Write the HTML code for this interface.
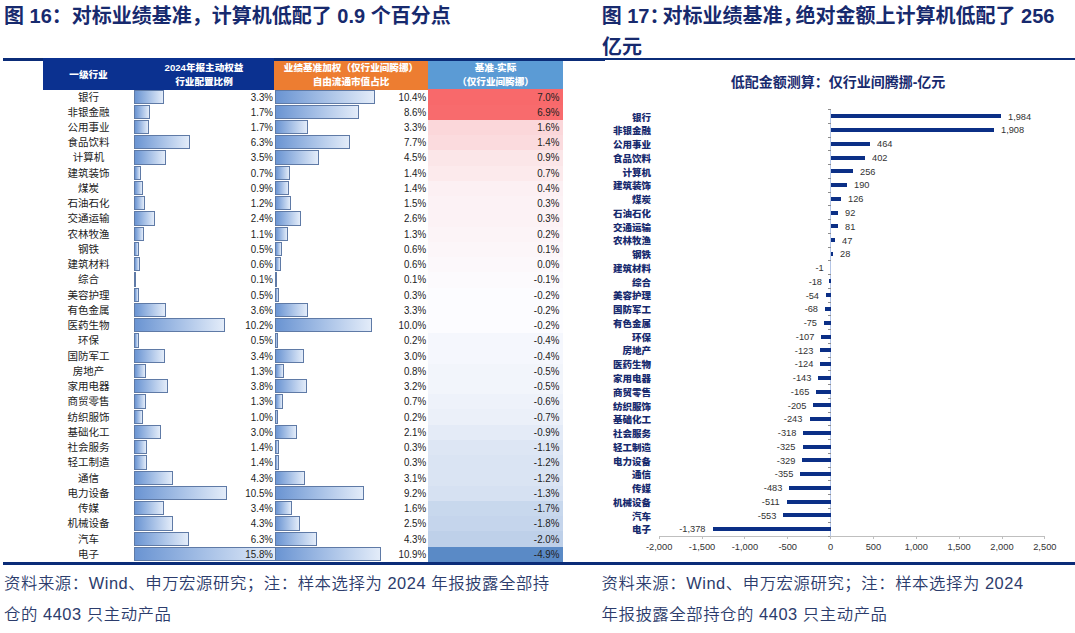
<!DOCTYPE html>
<html lang="zh-CN">
<head>
<meta charset="utf-8">
<title>图16 图17</title>
<style>
html,body{margin:0;padding:0;background:#fff;}
body{width:1075px;height:633px;position:relative;overflow:hidden;font-family:"Liberation Sans","Noto Sans CJK SC",sans-serif;}
.abs{position:absolute;}
.ttl{position:absolute;font-weight:700;font-size:20px;line-height:26px;color:#172a6e;white-space:nowrap;}
.src{position:absolute;font-size:16.4px;letter-spacing:0.55px;line-height:31px;color:#2c3c6c;white-space:nowrap;font-weight:350;}
.hline{position:absolute;background:#0b2c78;}
.hd{position:absolute;color:#fff;font-weight:900;font-size:9.6px;line-height:14.2px;text-align:center;white-space:nowrap;}
.rl{position:absolute;font-size:10.5px;line-height:15px;height:15px;color:#222;text-align:center;white-space:nowrap;}
.rv{position:absolute;font-size:10.5px;line-height:15px;height:15px;color:#222;text-align:right;white-space:nowrap;transform:scaleX(0.93);transform-origin:100% 50%;}
.db{position:absolute;box-sizing:border-box;border:1px solid #5f7aa6;background:linear-gradient(to right,#6a94d2 0%,#a6c0e6 50%,#e3ecf9 100%);}
.cc{position:absolute;}
.cl{position:absolute;font-weight:900;font-size:9.5px;line-height:13px;height:13px;color:#172a6e;text-align:right;white-space:nowrap;}
.cv{position:absolute;font-size:9.7px;line-height:13px;height:13px;color:#333;white-space:nowrap;transform:scaleX(0.955);transform-origin:0 50%;}
.cvn{transform-origin:100% 50%;text-align:right;}
.cb{position:absolute;background:#0b2f86;height:4px;}
.tk{position:absolute;font-size:9.3px;line-height:12px;color:#333;text-align:center;width:50px;white-space:nowrap;}
.pc{display:inline-block;width:13px;overflow:visible;}
</style>
</head>
<body>
<div class="ttl" style="left:4px;top:2.7px;">图 16：对标业绩基准，计算机低配了 0.9 个百分点</div>
<div class="hline" style="left:3px;top:58px;width:602px;height:3px;"></div>
<div class="abs" style="left:43px;top:58px;width:231px;height:32px;background:#0b3190;"></div>
<div class="abs" style="left:274px;top:61px;width:154px;height:29px;background:#ed7d31;"></div>
<div class="abs" style="left:428px;top:61px;width:135px;height:29px;background:#5b9bd5;"></div>
<div class="hd" style="left:43px;top:68px;width:91px;">一级行业</div>
<div class="hd" style="left:134px;top:60.5px;width:140px;">2024年报主动权益<br>行业配置比例</div>
<div class="hd" style="left:274px;top:60.5px;width:154px;">业绩基准加权（仅行业间腾挪）<br>自由流通市值占比</div>
<div class="hd" style="left:428px;top:60.5px;width:135px;">基准-实际<br>（仅行业间腾挪）</div>
<div class="cc" style="left:428px;top:89.4px;width:135px;height:15.54px;background:rgb(248,105,107);"></div>
<div class="db" style="left:134.2px;top:89.5px;width:29.5px;height:14.24px;"></div><div class="db" style="left:275.3px;top:89.5px;width:99.7px;height:14.24px;"></div>
<div class="rl" style="left:43px;top:89.52px;width:91px;">银行</div><div class="rv" style="left:134px;top:89.52px;width:139px;">3.3%</div><div class="rv" style="left:274px;top:89.52px;width:152.2px;">10.4%</div><div class="rv" style="left:428px;top:89.52px;width:131.4px;">7.0%</div>
<div class="cc" style="left:428px;top:104.64px;width:135px;height:15.54px;background:rgb(248,107,109);"></div>
<div class="db" style="left:134.2px;top:104.74px;width:15.5px;height:14.24px;"></div><div class="db" style="left:275.3px;top:104.74px;width:83.6px;height:14.24px;"></div>
<div class="rl" style="left:43px;top:104.76px;width:91px;">非银金融</div><div class="rv" style="left:134px;top:104.76px;width:139px;">1.7%</div><div class="rv" style="left:274px;top:104.76px;width:152.2px;">8.6%</div><div class="rv" style="left:428px;top:104.76px;width:131.4px;">6.9%</div>
<div class="cc" style="left:428px;top:119.88px;width:135px;height:15.54px;background:rgb(251,215,218);"></div>
<div class="db" style="left:134.2px;top:119.98px;width:14.7px;height:14.24px;"></div><div class="db" style="left:275.3px;top:119.98px;width:32.7px;height:14.24px;"></div>
<div class="rl" style="left:43px;top:120px;width:91px;">公用事业</div><div class="rv" style="left:134px;top:120px;width:139px;">1.7%</div><div class="rv" style="left:274px;top:120px;width:152.2px;">3.3%</div><div class="rv" style="left:428px;top:120px;width:131.4px;">1.6%</div>
<div class="cc" style="left:428px;top:135.13px;width:135px;height:15.54px;background:rgb(251,219,222);"></div>
<div class="db" style="left:134.2px;top:135.23px;width:56px;height:14.24px;"></div><div class="db" style="left:275.3px;top:135.23px;width:75px;height:14.24px;"></div>
<div class="rl" style="left:43px;top:135.25px;width:91px;">食品饮料</div><div class="rv" style="left:134px;top:135.25px;width:139px;">6.3%</div><div class="rv" style="left:274px;top:135.25px;width:152.2px;">7.7%</div><div class="rv" style="left:428px;top:135.25px;width:131.4px;">1.4%</div>
<div class="cc" style="left:428px;top:150.37px;width:135px;height:15.54px;background:rgb(251,230,232);"></div>
<div class="db" style="left:134.2px;top:150.47px;width:31.4px;height:14.24px;"></div><div class="db" style="left:275.3px;top:150.47px;width:43.7px;height:14.24px;"></div>
<div class="rl" style="left:43px;top:150.49px;width:91px;">计算机</div><div class="rv" style="left:134px;top:150.49px;width:139px;">3.5%</div><div class="rv" style="left:274px;top:150.49px;width:152.2px;">4.5%</div><div class="rv" style="left:428px;top:150.49px;width:131.4px;">0.9%</div>
<div class="cc" style="left:428px;top:165.61px;width:135px;height:15.54px;background:rgb(252,234,236);"></div>
<div class="db" style="left:134.2px;top:165.71px;width:7.1px;height:14.24px;"></div><div class="db" style="left:275.3px;top:165.71px;width:14.9px;height:14.24px;"></div>
<div class="rl" style="left:43px;top:165.73px;width:91px;">建筑装饰</div><div class="rv" style="left:134px;top:165.73px;width:139px;">0.7%</div><div class="rv" style="left:274px;top:165.73px;width:152.2px;">1.4%</div><div class="rv" style="left:428px;top:165.73px;width:131.4px;">0.7%</div>
<div class="cc" style="left:428px;top:180.85px;width:135px;height:15.54px;background:rgb(252,240,243);"></div>
<div class="db" style="left:134.2px;top:180.95px;width:9.1px;height:14.24px;"></div><div class="db" style="left:275.3px;top:180.95px;width:14px;height:14.24px;"></div>
<div class="rl" style="left:43px;top:180.97px;width:91px;">煤炭</div><div class="rv" style="left:134px;top:180.97px;width:139px;">0.9%</div><div class="rv" style="left:274px;top:180.97px;width:152.2px;">1.4%</div><div class="rv" style="left:428px;top:180.97px;width:131.4px;">0.4%</div>
<div class="cc" style="left:428px;top:196.09px;width:135px;height:15.54px;background:rgb(252,242,245);"></div>
<div class="db" style="left:134.2px;top:196.19px;width:10.8px;height:14.24px;"></div><div class="db" style="left:275.3px;top:196.19px;width:15.7px;height:14.24px;"></div>
<div class="rl" style="left:43px;top:196.21px;width:91px;">石油石化</div><div class="rv" style="left:134px;top:196.21px;width:139px;">1.2%</div><div class="rv" style="left:274px;top:196.21px;width:152.2px;">1.5%</div><div class="rv" style="left:428px;top:196.21px;width:131.4px;">0.3%</div>
<div class="cc" style="left:428px;top:211.34px;width:135px;height:15.54px;background:rgb(252,242,245);"></div>
<div class="db" style="left:134.2px;top:211.44px;width:20.9px;height:14.24px;"></div><div class="db" style="left:275.3px;top:211.44px;width:25.5px;height:14.24px;"></div>
<div class="rl" style="left:43px;top:211.46px;width:91px;">交通运输</div><div class="rv" style="left:134px;top:211.46px;width:139px;">2.4%</div><div class="rv" style="left:274px;top:211.46px;width:152.2px;">2.6%</div><div class="rv" style="left:428px;top:211.46px;width:131.4px;">0.3%</div>
<div class="cc" style="left:428px;top:226.58px;width:135px;height:15.54px;background:rgb(252,244,247);"></div>
<div class="db" style="left:134.2px;top:226.68px;width:10.2px;height:14.24px;"></div><div class="db" style="left:275.3px;top:226.68px;width:12.6px;height:14.24px;"></div>
<div class="rl" style="left:43px;top:226.7px;width:91px;">农林牧渔</div><div class="rv" style="left:134px;top:226.7px;width:139px;">1.1%</div><div class="rv" style="left:274px;top:226.7px;width:152.2px;">1.3%</div><div class="rv" style="left:428px;top:226.7px;width:131.4px;">0.2%</div>
<div class="cc" style="left:428px;top:241.82px;width:135px;height:15.54px;background:rgb(252,246,249);"></div>
<div class="db" style="left:134.2px;top:241.92px;width:4.5px;height:14.24px;"></div><div class="db" style="left:275.3px;top:241.92px;width:6.6px;height:14.24px;"></div>
<div class="rl" style="left:43px;top:241.94px;width:91px;">钢铁</div><div class="rv" style="left:134px;top:241.94px;width:139px;">0.5%</div><div class="rv" style="left:274px;top:241.94px;width:152.2px;">0.6%</div><div class="rv" style="left:428px;top:241.94px;width:131.4px;">0.1%</div>
<div class="cc" style="left:428px;top:257.06px;width:135px;height:15.54px;background:rgb(252,248,251);"></div>
<div class="db" style="left:134.2px;top:257.16px;width:5.5px;height:14.24px;"></div><div class="db" style="left:275.3px;top:257.16px;width:5.9px;height:14.24px;"></div>
<div class="rl" style="left:43px;top:257.18px;width:91px;">建筑材料</div><div class="rv" style="left:134px;top:257.18px;width:139px;">0.6%</div><div class="rv" style="left:274px;top:257.18px;width:152.2px;">0.6%</div><div class="rv" style="left:428px;top:257.18px;width:131.4px;">0.0%</div>
<div class="cc" style="left:428px;top:272.3px;width:135px;height:15.54px;background:rgb(252,250,253);"></div>
<div class="db" style="left:134.2px;top:272.4px;width:1.7px;height:14.24px;"></div><div class="db" style="left:275.3px;top:272.4px;width:1.8px;height:14.24px;"></div>
<div class="rl" style="left:43px;top:272.42px;width:91px;">综合</div><div class="rv" style="left:134px;top:272.42px;width:139px;">0.1%</div><div class="rv" style="left:274px;top:272.42px;width:152.2px;">0.1%</div><div class="rv" style="left:428px;top:272.42px;width:131.4px;">-0.1%</div>
<div class="cc" style="left:428px;top:287.55px;width:135px;height:15.54px;background:rgb(252,252,255);"></div>
<div class="db" style="left:134.2px;top:287.65px;width:4.5px;height:14.24px;"></div><div class="db" style="left:275.3px;top:287.65px;width:3.7px;height:14.24px;"></div>
<div class="rl" style="left:43px;top:287.67px;width:91px;">美容护理</div><div class="rv" style="left:134px;top:287.67px;width:139px;">0.5%</div><div class="rv" style="left:274px;top:287.67px;width:152.2px;">0.3%</div><div class="rv" style="left:428px;top:287.67px;width:131.4px;">-0.2%</div>
<div class="cc" style="left:428px;top:302.79px;width:135px;height:15.54px;background:rgb(252,252,255);"></div>
<div class="db" style="left:134.2px;top:302.89px;width:31.7px;height:14.24px;"></div><div class="db" style="left:275.3px;top:302.89px;width:32.8px;height:14.24px;"></div>
<div class="rl" style="left:43px;top:302.91px;width:91px;">有色金属</div><div class="rv" style="left:134px;top:302.91px;width:139px;">3.6%</div><div class="rv" style="left:274px;top:302.91px;width:152.2px;">3.3%</div><div class="rv" style="left:428px;top:302.91px;width:131.4px;">-0.2%</div>
<div class="cc" style="left:428px;top:318.03px;width:135px;height:15.54px;background:rgb(252,252,255);"></div>
<div class="db" style="left:134.2px;top:318.13px;width:90.7px;height:14.24px;"></div><div class="db" style="left:275.3px;top:318.13px;width:96.6px;height:14.24px;"></div>
<div class="rl" style="left:43px;top:318.15px;width:91px;">医药生物</div><div class="rv" style="left:134px;top:318.15px;width:139px;">10.2%</div><div class="rv" style="left:274px;top:318.15px;width:152.2px;">10.0%</div><div class="rv" style="left:428px;top:318.15px;width:131.4px;">-0.2%</div>
<div class="cc" style="left:428px;top:333.27px;width:135px;height:15.54px;background:rgb(245,247,253);"></div>
<div class="db" style="left:134.2px;top:333.37px;width:4.5px;height:14.24px;"></div><div class="db" style="left:275.3px;top:333.37px;width:2.8px;height:14.24px;"></div>
<div class="rl" style="left:43px;top:333.39px;width:91px;">环保</div><div class="rv" style="left:134px;top:333.39px;width:139px;">0.5%</div><div class="rv" style="left:274px;top:333.39px;width:152.2px;">0.2%</div><div class="rv" style="left:428px;top:333.39px;width:131.4px;">-0.4%</div>
<div class="cc" style="left:428px;top:348.51px;width:135px;height:15.54px;background:rgb(245,247,253);"></div>
<div class="db" style="left:134.2px;top:348.61px;width:30.4px;height:14.24px;"></div><div class="db" style="left:275.3px;top:348.61px;width:28.7px;height:14.24px;"></div>
<div class="rl" style="left:43px;top:348.63px;width:91px;">国防军工</div><div class="rv" style="left:134px;top:348.63px;width:139px;">3.4%</div><div class="rv" style="left:274px;top:348.63px;width:152.2px;">3.0%</div><div class="rv" style="left:428px;top:348.63px;width:131.4px;">-0.4%</div>
<div class="cc" style="left:428px;top:363.75px;width:135px;height:15.54px;background:rgb(242,245,251);"></div>
<div class="db" style="left:134.2px;top:363.85px;width:11.8px;height:14.24px;"></div><div class="db" style="left:275.3px;top:363.85px;width:8.5px;height:14.24px;"></div>
<div class="rl" style="left:43px;top:363.88px;width:91px;">房地产</div><div class="rv" style="left:134px;top:363.88px;width:139px;">1.3%</div><div class="rv" style="left:274px;top:363.88px;width:152.2px;">0.8%</div><div class="rv" style="left:428px;top:363.88px;width:131.4px;">-0.5%</div>
<div class="cc" style="left:428px;top:379px;width:135px;height:15.54px;background:rgb(242,245,251);"></div>
<div class="db" style="left:134.2px;top:379.1px;width:33.4px;height:14.24px;"></div><div class="db" style="left:275.3px;top:379.1px;width:31.8px;height:14.24px;"></div>
<div class="rl" style="left:43px;top:379.12px;width:91px;">家用电器</div><div class="rv" style="left:134px;top:379.12px;width:139px;">3.8%</div><div class="rv" style="left:274px;top:379.12px;width:152.2px;">3.2%</div><div class="rv" style="left:428px;top:379.12px;width:131.4px;">-0.5%</div>
<div class="cc" style="left:428px;top:394.24px;width:135px;height:15.54px;background:rgb(238,242,250);"></div>
<div class="db" style="left:134.2px;top:394.34px;width:11.6px;height:14.24px;"></div><div class="db" style="left:275.3px;top:394.34px;width:7.5px;height:14.24px;"></div>
<div class="rl" style="left:43px;top:394.36px;width:91px;">商贸零售</div><div class="rv" style="left:134px;top:394.36px;width:139px;">1.3%</div><div class="rv" style="left:274px;top:394.36px;width:152.2px;">0.7%</div><div class="rv" style="left:428px;top:394.36px;width:131.4px;">-0.6%</div>
<div class="cc" style="left:428px;top:409.48px;width:135px;height:15.54px;background:rgb(235,240,249);"></div>
<div class="db" style="left:134.2px;top:409.58px;width:8.8px;height:14.24px;"></div><div class="db" style="left:275.3px;top:409.58px;width:3.1px;height:14.24px;"></div>
<div class="rl" style="left:43px;top:409.6px;width:91px;">纺织服饰</div><div class="rv" style="left:134px;top:409.6px;width:139px;">1.0%</div><div class="rv" style="left:274px;top:409.6px;width:152.2px;">0.2%</div><div class="rv" style="left:428px;top:409.6px;width:131.4px;">-0.7%</div>
<div class="cc" style="left:428px;top:424.72px;width:135px;height:15.54px;background:rgb(228,235,247);"></div>
<div class="db" style="left:134.2px;top:424.82px;width:26.8px;height:14.24px;"></div><div class="db" style="left:275.3px;top:424.82px;width:21.5px;height:14.24px;"></div>
<div class="rl" style="left:43px;top:424.84px;width:91px;">基础化工</div><div class="rv" style="left:134px;top:424.84px;width:139px;">3.0%</div><div class="rv" style="left:274px;top:424.84px;width:152.2px;">2.1%</div><div class="rv" style="left:428px;top:424.84px;width:131.4px;">-0.9%</div>
<div class="cc" style="left:428px;top:439.96px;width:135px;height:15.54px;background:rgb(221,230,244);"></div>
<div class="db" style="left:134.2px;top:440.06px;width:12.8px;height:14.24px;"></div><div class="db" style="left:275.3px;top:440.06px;width:3.9px;height:14.24px;"></div>
<div class="rl" style="left:43px;top:440.09px;width:91px;">社会服务</div><div class="rv" style="left:134px;top:440.09px;width:139px;">1.4%</div><div class="rv" style="left:274px;top:440.09px;width:152.2px;">0.3%</div><div class="rv" style="left:428px;top:440.09px;width:131.4px;">-1.1%</div>
<div class="cc" style="left:428px;top:455.21px;width:135px;height:15.54px;background:rgb(218,228,243);"></div>
<div class="db" style="left:134.2px;top:455.31px;width:12.8px;height:14.24px;"></div><div class="db" style="left:275.3px;top:455.31px;width:3.9px;height:14.24px;"></div>
<div class="rl" style="left:43px;top:455.33px;width:91px;">轻工制造</div><div class="rv" style="left:134px;top:455.33px;width:139px;">1.4%</div><div class="rv" style="left:274px;top:455.33px;width:152.2px;">0.3%</div><div class="rv" style="left:428px;top:455.33px;width:131.4px;">-1.2%</div>
<div class="cc" style="left:428px;top:470.45px;width:135px;height:15.54px;background:rgb(218,228,243);"></div>
<div class="db" style="left:134.2px;top:470.55px;width:38.8px;height:14.24px;"></div><div class="db" style="left:275.3px;top:470.55px;width:30.2px;height:14.24px;"></div>
<div class="rl" style="left:43px;top:470.57px;width:91px;">通信</div><div class="rv" style="left:134px;top:470.57px;width:139px;">4.3%</div><div class="rv" style="left:274px;top:470.57px;width:152.2px;">3.1%</div><div class="rv" style="left:428px;top:470.57px;width:131.4px;">-1.2%</div>
<div class="cc" style="left:428px;top:485.69px;width:135px;height:15.54px;background:rgb(214,225,242);"></div>
<div class="db" style="left:134.2px;top:485.79px;width:92.7px;height:14.24px;"></div><div class="db" style="left:275.3px;top:485.79px;width:88.6px;height:14.24px;"></div>
<div class="rl" style="left:43px;top:485.81px;width:91px;">电力设备</div><div class="rv" style="left:134px;top:485.81px;width:139px;">10.5%</div><div class="rv" style="left:274px;top:485.81px;width:152.2px;">9.2%</div><div class="rv" style="left:428px;top:485.81px;width:131.4px;">-1.3%</div>
<div class="cc" style="left:428px;top:500.93px;width:135px;height:15.54px;background:rgb(200,216,237);"></div>
<div class="db" style="left:134.2px;top:501.03px;width:29.6px;height:14.24px;"></div><div class="db" style="left:275.3px;top:501.03px;width:16.3px;height:14.24px;"></div>
<div class="rl" style="left:43px;top:501.05px;width:91px;">传媒</div><div class="rv" style="left:134px;top:501.05px;width:139px;">3.4%</div><div class="rv" style="left:274px;top:501.05px;width:152.2px;">1.6%</div><div class="rv" style="left:428px;top:501.05px;width:131.4px;">-1.7%</div>
<div class="cc" style="left:428px;top:516.17px;width:135px;height:15.54px;background:rgb(197,213,236);"></div>
<div class="db" style="left:134.2px;top:516.27px;width:38.4px;height:14.24px;"></div><div class="db" style="left:275.3px;top:516.27px;width:24.7px;height:14.24px;"></div>
<div class="rl" style="left:43px;top:516.3px;width:91px;">机械设备</div><div class="rv" style="left:134px;top:516.3px;width:139px;">4.3%</div><div class="rv" style="left:274px;top:516.3px;width:152.2px;">2.5%</div><div class="rv" style="left:428px;top:516.3px;width:131.4px;">-1.8%</div>
<div class="cc" style="left:428px;top:531.42px;width:135px;height:15.54px;background:rgb(190,208,233);"></div>
<div class="db" style="left:134.2px;top:531.52px;width:55.2px;height:14.24px;"></div><div class="db" style="left:275.3px;top:531.52px;width:41.4px;height:14.24px;"></div>
<div class="rl" style="left:43px;top:531.54px;width:91px;">汽车</div><div class="rv" style="left:134px;top:531.54px;width:139px;">6.3%</div><div class="rv" style="left:274px;top:531.54px;width:152.2px;">4.3%</div><div class="rv" style="left:428px;top:531.54px;width:131.4px;">-2.0%</div>
<div class="cc" style="left:428px;top:546.66px;width:135px;height:15.54px;background:rgb(90,138,198);"></div>
<div class="db" style="left:134.2px;top:546.76px;width:141px;height:14.24px;border-right:0;"></div><div class="db" style="left:275.3px;top:546.76px;width:105.4px;height:14.24px;"></div>
<div class="rl" style="left:43px;top:546.78px;width:91px;">电子</div><div class="rv" style="left:134px;top:546.78px;width:139px;">15.8%</div><div class="rv" style="left:274px;top:546.78px;width:152.2px;">10.9%</div><div class="rv" style="left:428px;top:546.78px;width:131.4px;">-4.9%</div>
<div class="hline" style="left:3px;top:562px;width:1072px;height:3px;"></div>
<div class="src" style="left:4px;top:568px;">资料来源：Wind、申万宏源研究；注：样本选择为 2024 年报披露全部持<br>仓的 4403 只主动产品</div>
<div class="ttl" style="left:601.7px;top:2.5px;">图 17<span class="pc">：</span>对标业绩基准<span class="pc">，</span>绝对金额上计算机低配了 256</div>
<div class="ttl" style="left:602px;top:34.3px;">亿元</div>
<div class="hline" style="left:604px;top:58px;width:471px;height:2px;"></div>
<div class="abs" style="left:638px;top:72px;width:400px;text-align:center;font-weight:700;font-size:14px;line-height:20px;color:#172a6e;white-space:nowrap;">低配金额测算：仅行业间腾挪-亿元</div>
<div class="abs" style="left:830.1px;top:109.5px;width:1px;height:426.5px;background:#b4c5e6;"></div>
<div class="abs" style="left:659.2px;top:535.5px;width:385.65px;height:1px;background:#bfbfbf;"></div>
<div class="abs" style="left:827.6px;top:109px;width:3px;height:1px;background:#8c8c8c;"></div><div class="abs" style="left:827.6px;top:122.76px;width:3px;height:1px;background:#8c8c8c;"></div><div class="abs" style="left:827.6px;top:136.52px;width:3px;height:1px;background:#8c8c8c;"></div><div class="abs" style="left:827.6px;top:150.27px;width:3px;height:1px;background:#8c8c8c;"></div><div class="abs" style="left:827.6px;top:164.03px;width:3px;height:1px;background:#8c8c8c;"></div><div class="abs" style="left:827.6px;top:177.79px;width:3px;height:1px;background:#8c8c8c;"></div><div class="abs" style="left:827.6px;top:191.55px;width:3px;height:1px;background:#8c8c8c;"></div><div class="abs" style="left:827.6px;top:205.31px;width:3px;height:1px;background:#8c8c8c;"></div><div class="abs" style="left:827.6px;top:219.06px;width:3px;height:1px;background:#8c8c8c;"></div><div class="abs" style="left:827.6px;top:232.82px;width:3px;height:1px;background:#8c8c8c;"></div><div class="abs" style="left:827.6px;top:246.58px;width:3px;height:1px;background:#8c8c8c;"></div><div class="abs" style="left:827.6px;top:260.34px;width:3px;height:1px;background:#8c8c8c;"></div><div class="abs" style="left:827.6px;top:274.1px;width:3px;height:1px;background:#8c8c8c;"></div><div class="abs" style="left:827.6px;top:287.85px;width:3px;height:1px;background:#8c8c8c;"></div><div class="abs" style="left:827.6px;top:301.61px;width:3px;height:1px;background:#8c8c8c;"></div><div class="abs" style="left:827.6px;top:315.37px;width:3px;height:1px;background:#8c8c8c;"></div><div class="abs" style="left:827.6px;top:329.13px;width:3px;height:1px;background:#8c8c8c;"></div><div class="abs" style="left:827.6px;top:342.89px;width:3px;height:1px;background:#8c8c8c;"></div><div class="abs" style="left:827.6px;top:356.65px;width:3px;height:1px;background:#8c8c8c;"></div><div class="abs" style="left:827.6px;top:370.4px;width:3px;height:1px;background:#8c8c8c;"></div><div class="abs" style="left:827.6px;top:384.16px;width:3px;height:1px;background:#8c8c8c;"></div><div class="abs" style="left:827.6px;top:397.92px;width:3px;height:1px;background:#8c8c8c;"></div><div class="abs" style="left:827.6px;top:411.68px;width:3px;height:1px;background:#8c8c8c;"></div><div class="abs" style="left:827.6px;top:425.44px;width:3px;height:1px;background:#8c8c8c;"></div><div class="abs" style="left:827.6px;top:439.19px;width:3px;height:1px;background:#8c8c8c;"></div><div class="abs" style="left:827.6px;top:452.95px;width:3px;height:1px;background:#8c8c8c;"></div><div class="abs" style="left:827.6px;top:466.71px;width:3px;height:1px;background:#8c8c8c;"></div><div class="abs" style="left:827.6px;top:480.47px;width:3px;height:1px;background:#8c8c8c;"></div><div class="abs" style="left:827.6px;top:494.23px;width:3px;height:1px;background:#8c8c8c;"></div><div class="abs" style="left:827.6px;top:507.98px;width:3px;height:1px;background:#8c8c8c;"></div><div class="abs" style="left:827.6px;top:521.74px;width:3px;height:1px;background:#8c8c8c;"></div><div class="abs" style="left:827.6px;top:535.5px;width:3px;height:1px;background:#8c8c8c;"></div>
<div class="abs" style="left:658.7px;top:536px;width:1px;height:3px;background:#bfbfbf;"></div><div class="tk" style="left:634.2px;top:540.5px;">-2,000</div>
<div class="abs" style="left:701.55px;top:536px;width:1px;height:3px;background:#bfbfbf;"></div><div class="tk" style="left:677.05px;top:540.5px;">-1,500</div>
<div class="abs" style="left:744.4px;top:536px;width:1px;height:3px;background:#bfbfbf;"></div><div class="tk" style="left:719.9px;top:540.5px;">-1,000</div>
<div class="abs" style="left:787.25px;top:536px;width:1px;height:3px;background:#bfbfbf;"></div><div class="tk" style="left:762.75px;top:540.5px;">-500</div>
<div class="abs" style="left:830.1px;top:536px;width:1px;height:3px;background:#bfbfbf;"></div><div class="tk" style="left:805.6px;top:540.5px;">0</div>
<div class="abs" style="left:872.95px;top:536px;width:1px;height:3px;background:#bfbfbf;"></div><div class="tk" style="left:848.45px;top:540.5px;">500</div>
<div class="abs" style="left:915.8px;top:536px;width:1px;height:3px;background:#bfbfbf;"></div><div class="tk" style="left:891.3px;top:540.5px;">1,000</div>
<div class="abs" style="left:958.65px;top:536px;width:1px;height:3px;background:#bfbfbf;"></div><div class="tk" style="left:934.15px;top:540.5px;">1,500</div>
<div class="abs" style="left:1001.5px;top:536px;width:1px;height:3px;background:#bfbfbf;"></div><div class="tk" style="left:977px;top:540.5px;">2,000</div>
<div class="abs" style="left:1044.35px;top:536px;width:1px;height:3px;background:#bfbfbf;"></div><div class="tk" style="left:1019.85px;top:540.5px;">2,500</div>
<div class="cl" style="left:559px;top:110.58px;width:92px;">银行</div><div class="cb" style="left:830.6px;top:114.38px;width:170.03px;"></div><div class="cv" style="left:1007.63px;top:109.68px;">1,984</div>
<div class="cl" style="left:559px;top:124.34px;width:92px;">非银金融</div><div class="cb" style="left:830.6px;top:128.14px;width:163.52px;"></div><div class="cv" style="left:1001.12px;top:123.44px;">1,908</div>
<div class="cl" style="left:559px;top:138.1px;width:92px;">公用事业</div><div class="cb" style="left:830.6px;top:141.9px;width:39.76px;"></div><div class="cv" style="left:877.36px;top:137.2px;">464</div>
<div class="cl" style="left:559px;top:151.85px;width:92px;">食品饮料</div><div class="cb" style="left:830.6px;top:155.65px;width:34.45px;"></div><div class="cv" style="left:872.05px;top:150.95px;">402</div>
<div class="cl" style="left:559px;top:165.61px;width:92px;">计算机</div><div class="cb" style="left:830.6px;top:169.41px;width:21.94px;"></div><div class="cv" style="left:859.54px;top:164.71px;">256</div>
<div class="cl" style="left:559px;top:179.37px;width:92px;">建筑装饰</div><div class="cb" style="left:830.6px;top:183.17px;width:16.28px;"></div><div class="cv" style="left:853.88px;top:178.47px;">190</div>
<div class="cl" style="left:559px;top:193.13px;width:92px;">煤炭</div><div class="cb" style="left:830.6px;top:196.93px;width:10.8px;"></div><div class="cv" style="left:848.4px;top:192.23px;">126</div>
<div class="cl" style="left:559px;top:206.89px;width:92px;">石油石化</div><div class="cb" style="left:830.6px;top:210.69px;width:7.88px;"></div><div class="cv" style="left:845.48px;top:205.99px;">92</div>
<div class="cl" style="left:559px;top:220.64px;width:92px;">交通运输</div><div class="cb" style="left:830.6px;top:224.44px;width:6.94px;"></div><div class="cv" style="left:844.54px;top:219.74px;">81</div>
<div class="cl" style="left:559px;top:234.4px;width:92px;">农林牧渔</div><div class="cb" style="left:830.6px;top:238.2px;width:4.03px;"></div><div class="cv" style="left:841.63px;top:233.5px;">47</div>
<div class="cl" style="left:559px;top:248.16px;width:92px;">钢铁</div><div class="cb" style="left:830.6px;top:251.96px;width:2.4px;"></div><div class="cv" style="left:840px;top:247.26px;">28</div>
<div class="cl" style="left:559px;top:261.92px;width:92px;">建筑材料</div><div class="cv cvn" style="right:251.49px;top:261.02px;">-1</div>
<div class="cl" style="left:559px;top:275.68px;width:92px;">综合</div><div class="cb" style="left:829.06px;top:279.48px;width:1.54px;"></div><div class="cv cvn" style="right:252.94px;top:274.78px;">-18</div>
<div class="cl" style="left:559px;top:289.43px;width:92px;">美容护理</div><div class="cb" style="left:825.97px;top:293.23px;width:4.63px;"></div><div class="cv cvn" style="right:256.03px;top:288.53px;">-54</div>
<div class="cl" style="left:559px;top:303.19px;width:92px;">国防军工</div><div class="cb" style="left:824.77px;top:306.99px;width:5.83px;"></div><div class="cv cvn" style="right:257.23px;top:302.29px;">-68</div>
<div class="cl" style="left:559px;top:316.95px;width:92px;">有色金属</div><div class="cb" style="left:824.17px;top:320.75px;width:6.43px;"></div><div class="cv cvn" style="right:257.83px;top:316.05px;">-75</div>
<div class="cl" style="left:559px;top:330.71px;width:92px;">环保</div><div class="cb" style="left:821.43px;top:334.51px;width:9.17px;"></div><div class="cv cvn" style="right:260.57px;top:329.81px;">-107</div>
<div class="cl" style="left:559px;top:344.47px;width:92px;">房地产</div><div class="cb" style="left:820.06px;top:348.27px;width:10.54px;"></div><div class="cv cvn" style="right:261.94px;top:343.57px;">-123</div>
<div class="cl" style="left:559px;top:358.22px;width:92px;">医药生物</div><div class="cb" style="left:819.97px;top:362.02px;width:10.63px;"></div><div class="cv cvn" style="right:262.03px;top:357.32px;">-124</div>
<div class="cl" style="left:559px;top:371.98px;width:92px;">家用电器</div><div class="cb" style="left:818.34px;top:375.78px;width:12.26px;"></div><div class="cv cvn" style="right:263.66px;top:371.08px;">-143</div>
<div class="cl" style="left:559px;top:385.74px;width:92px;">商贸零售</div><div class="cb" style="left:816.46px;top:389.54px;width:14.14px;"></div><div class="cv cvn" style="right:265.54px;top:384.84px;">-165</div>
<div class="cl" style="left:559px;top:399.5px;width:92px;">纺织服饰</div><div class="cb" style="left:813.03px;top:403.3px;width:17.57px;"></div><div class="cv cvn" style="right:268.97px;top:398.6px;">-205</div>
<div class="cl" style="left:559px;top:413.26px;width:92px;">基础化工</div><div class="cb" style="left:809.77px;top:417.06px;width:20.83px;"></div><div class="cv cvn" style="right:272.23px;top:412.36px;">-243</div>
<div class="cl" style="left:559px;top:427.01px;width:92px;">社会服务</div><div class="cb" style="left:803.35px;top:430.81px;width:27.25px;"></div><div class="cv cvn" style="right:278.65px;top:426.11px;">-318</div>
<div class="cl" style="left:559px;top:440.77px;width:92px;">轻工制造</div><div class="cb" style="left:802.75px;top:444.57px;width:27.85px;"></div><div class="cv cvn" style="right:279.25px;top:439.87px;">-325</div>
<div class="cl" style="left:559px;top:454.53px;width:92px;">电力设备</div><div class="cb" style="left:802.4px;top:458.33px;width:28.2px;"></div><div class="cv cvn" style="right:279.6px;top:453.63px;">-329</div>
<div class="cl" style="left:559px;top:468.29px;width:92px;">通信</div><div class="cb" style="left:800.18px;top:472.09px;width:30.42px;"></div><div class="cv cvn" style="right:281.82px;top:467.39px;">-355</div>
<div class="cl" style="left:559px;top:482.05px;width:92px;">传媒</div><div class="cb" style="left:789.21px;top:485.85px;width:41.39px;"></div><div class="cv cvn" style="right:292.79px;top:481.15px;">-483</div>
<div class="cl" style="left:559px;top:495.8px;width:92px;">机械设备</div><div class="cb" style="left:786.81px;top:499.6px;width:43.79px;"></div><div class="cv cvn" style="right:295.19px;top:494.9px;">-511</div>
<div class="cl" style="left:559px;top:509.56px;width:92px;">汽车</div><div class="cb" style="left:783.21px;top:513.36px;width:47.39px;"></div><div class="cv cvn" style="right:298.79px;top:508.66px;">-553</div>
<div class="cl" style="left:559px;top:523.32px;width:92px;">电子</div><div class="cb" style="left:712.51px;top:527.12px;width:118.09px;"></div><div class="cv cvn" style="right:369.49px;top:522.42px;">-1,378</div>
<div class="src" style="left:601.5px;top:568px;">资料来源：Wind、申万宏源研究；注：样本选择为 2024<br>年报披露全部持仓的 4403 只主动产品</div>
</body>
</html>
